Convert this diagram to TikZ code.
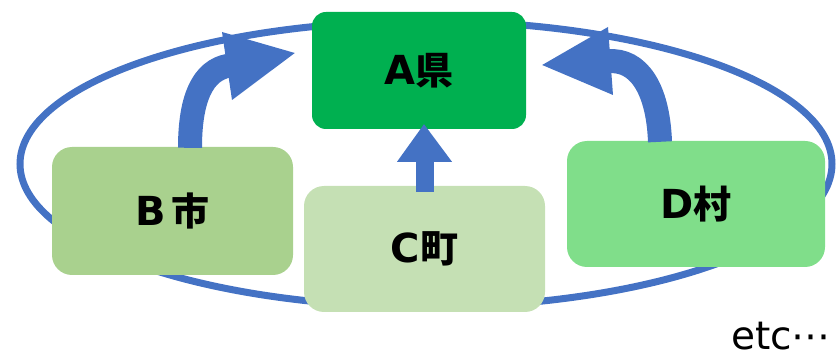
\documentclass[tikz,border=0pt]{standalone}
\usepackage{fontspec}
\newfontfamily\latfont{DejaVu Sans}
\newfontfamily\jpfont{Noto Sans CJK JP}
\usetikzlibrary{calc}
\definecolor{ablue}{HTML}{4472C4}
\definecolor{agreen}{HTML}{00B050}
\definecolor{bgreen}{HTML}{A9D18E}
\definecolor{cgreen}{HTML}{C5E0B4}
\definecolor{dgreen}{HTML}{80DE8A}
\newcommand\twopart[2]{{\latfont\fontsize{40}{40}\selectfont\bfseries #1}{\jpfont\fontsize{38}{38}\selectfont\bfseries #2}}
\begin{document}
\begin{tikzpicture}[x=1pt,y=-1pt,
  box/.style={rectangle, rounded corners=20pt, inner sep=0pt, draw=none},
  shaft/.style={draw=ablue, line width=24pt},
  cshaft/.style={draw=ablue, line width=18pt},
  head/.style={fill=ablue, draw=none}]
\useasboundingbox (0,0) rectangle (839,358);
% ellipse ring
\draw[ablue, line width=7pt] (426,164) ellipse [x radius=406, y radius=143];
% boxes
\node[box, fill=agreen, rounded corners=14pt, minimum width=214pt, minimum height=117pt] (A) at (419,70.5) {\twopart{A}{県}};
\node[box, fill=bgreen, minimum width=241pt, minimum height=128pt] (B) at (172.5,211) {\twopart{B{\fontsize{16}{16}\selectfont\ }}{市}};
\node[box, fill=cgreen, minimum width=241pt, minimum height=126pt] (C) at (424.5,249) {\twopart{C}{町}};
\node[box, fill=dgreen, minimum width=258pt, minimum height=126pt] (D) at (696,204) {\raisebox{-3pt}{\twopart{D}{村}}};
% arrow B -> A
\coordinate (bS) at ($(B.north)+(17.5,1)$);
\coordinate (bM) at (228.5,65.7);
\coordinate (bT) at ($(A.west)+(-17,-17.5)$);
\draw[shaft] (bS) .. controls ($(bS)+(0,-50)$) and (203,70.4) .. (bM);
\fill[head] (222,32) -- (bT) -- (232,100) -- cycle;
% arrow D -> A
\coordinate (dS) at ($(D.north)+(-36,1)$);
\coordinate (dM) at (608.5,61.2);
\coordinate (dT) at ($(A.east)+(16,-5.5)$);
\draw[shaft] (dS) .. controls ($(dS)+(-2,-54)$) and (638,59) .. (dM);
\fill[head] (608,27) -- (dT) -- (613,95) -- cycle;
% arrow C -> A
\coordinate (cS) at ($(C.north)+(0,6)$);
\coordinate (cM) at ($(C.north)+(0,-25)$);
\coordinate (cT) at ($(A.south)+(5,-5)$);
\draw[cshaft] (cS) -- (cM);
\fill[head] ($(cM)+(-27.5,1)$) -- (cT) -- ($(cM)+(27.5,1)$) -- cycle;
% etc
\node[anchor=base west, inner sep=0pt, font=\latfont\fontsize{39}{39}\selectfont] (etc) at (731,350) {etc⋯};
\end{tikzpicture}
\end{document}
